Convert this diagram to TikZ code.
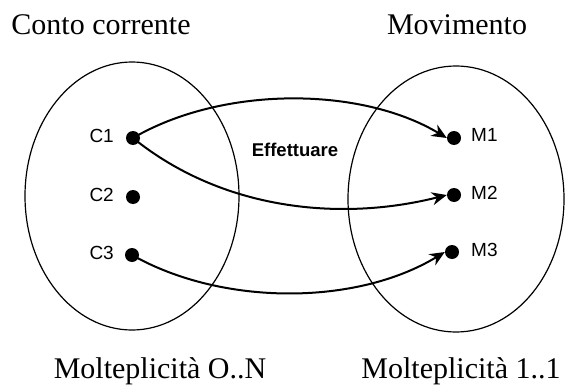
\documentclass[tikz,border=0pt]{standalone}
\usepackage{fontspec}
\setmainfont{Liberation Serif}
\newfontfamily\labfont{Liberation Sans}
\usetikzlibrary{arrows.meta}
\begin{document}
\begin{tikzpicture}[x=1pt,y=-1pt,
  setline/.style={line width=1.2pt},
  dotnode/.style={circle,fill=black,inner sep=0pt,minimum size=14pt},
  elemlabel/.style={font=\labfont\fontsize{19}{21}\selectfont,inner sep=0pt},
  title/.style={font=\fontsize{30}{34}\selectfont,inner sep=0pt,anchor=base},
  link/.style={line width=2pt,-{Stealth[length=15pt,width=13pt]},shorten >=0pt}]
\useasboundingbox (0,0) rectangle (567,385);
% sets
\draw[setline] (132,196) ellipse [x radius=107, y radius=134];
\draw[setline] (456,199) ellipse [x radius=108, y radius=133];
% elements
\node[dotnode] (c1) at (133,138) {};
\node[dotnode] (c2) at (133,197) {};
\node[dotnode] (c3) at (132,255) {};
\node[dotnode] (m1) at (454,138) {};
\node[dotnode] (m2) at (454,195) {};
\node[dotnode] (m3) at (452,252) {};
\node[elemlabel,anchor=east] (lc1) at (114,136) {C1};
\node[elemlabel,anchor=east] (lc2) at (114,195) {C2};
\node[elemlabel,anchor=east] (lc3) at (114,253) {C3};
\node[elemlabel,anchor=west] (lm1) at (471,135) {M1};
\node[elemlabel,anchor=west] (lm2) at (471,193) {M2};
\node[elemlabel,anchor=west] (lm3) at (471,250) {M3};
% connectors
\draw[link] (c1.center) .. controls (222,86) and (360,86) .. (m1.west);
\draw[link] (c1.center) .. controls (222,210) and (340,222) .. (m2.west);
\draw[link] (c3.center) .. controls (222,306) and (356,306) .. (m3.west);
\node[font=\labfont\bfseries\fontsize{18.5}{20}\selectfont,inner sep=0pt] (eff) at (295,150) {Effettuare};
% titles
\node[title] (t1) at (101,35) {Conto corrente};
\node[title] (t2) at (457,35) {Movimento};
\node[title] (b1) at (160,378) {Molteplicità O..N};
\node[title] (b2) at (461,378) {Molteplicità 1..1};
\end{tikzpicture}
\end{document}
